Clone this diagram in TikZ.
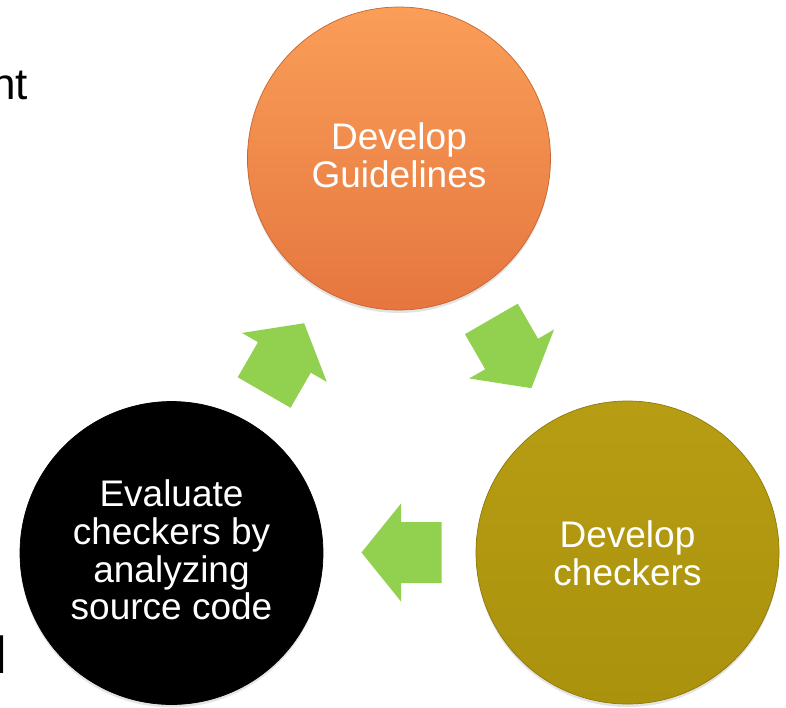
\documentclass[tikz,border=0pt]{standalone}
\usepackage{fontspec}
\setmainfont{Liberation Sans}
\usetikzlibrary{shadows}
\definecolor{arrowgreen}{HTML}{92D050}
\definecolor{orangetop}{HTML}{FA9E58}
\definecolor{orangebot}{HTML}{E5763F}
\definecolor{orangeedge}{HTML}{C8642F}
\definecolor{olivetop}{HTML}{B69D13}
\definecolor{olivebot}{HTML}{AB920D}
\definecolor{oliveedge}{HTML}{8E7A08}
\begin{document}
\begin{tikzpicture}[x=1pt,y=-1pt]
\useasboundingbox (0,0) rectangle (786,707);
\tikzset{
  disc/.style={circle, minimum size=303pt, inner sep=0pt, line width=0.7pt,
    drop shadow={shadow xshift=0pt, shadow yshift=-3pt, opacity=0.22}},
  disctext/.style={text=white, align=center, inner sep=0pt,
    font=\fontsize{37}{37.7}\selectfont},
  fragtext/.style={inner sep=0pt, text=black},
  cyclearrow/.style={fill=arrowgreen, draw=none},
}
% discs
\node[disc, top color=orangetop, bottom color=orangebot, draw=orangeedge] (guide) at (399,158.5) {};
\node[disc, top color=olivetop, bottom color=olivebot, draw=oliveedge] (check) at (627.5,552.5) {};
\node[disc, fill=black, draw=black] (eval) at (171.5,553) {};
% texts
\node[disctext] (guidetext) at (guide.center) [yshift=3pt] {Develop\\Guidelines};
\node[disctext] (checktext) at (check.center) [yshift=-0.5pt] {Develop\\checkers};
\node[disctext] (evaltext) at (eval.center) [yshift=3pt] {Evaluate\\checkers by\\analyzing\\source code};
% fragments of text cut by the frame
\node[fragtext, anchor=base east, font=\fontsize{44}{50}\selectfont] (ntfrag) at (28,99) {nt};
\node[fragtext, anchor=base west, font=\fontsize{52}{60}\selectfont] (lfrag) at (-4.5,673) {l};
% cycle arrows
\coordinate (mid) at (399,421.3);
\def\arrowpath{(361.5,552.5) -- (401,503.5) -- (401,522) -- (441.5,522) -- (441.5,583) -- (401,583) -- (401,601.5) -- cycle}
\fill[cyclearrow] \arrowpath;
\fill[cyclearrow, rotate around={120:(mid)}] \arrowpath;
\fill[cyclearrow, rotate around={-120:(mid)}] \arrowpath;
\end{tikzpicture}
\end{document}
